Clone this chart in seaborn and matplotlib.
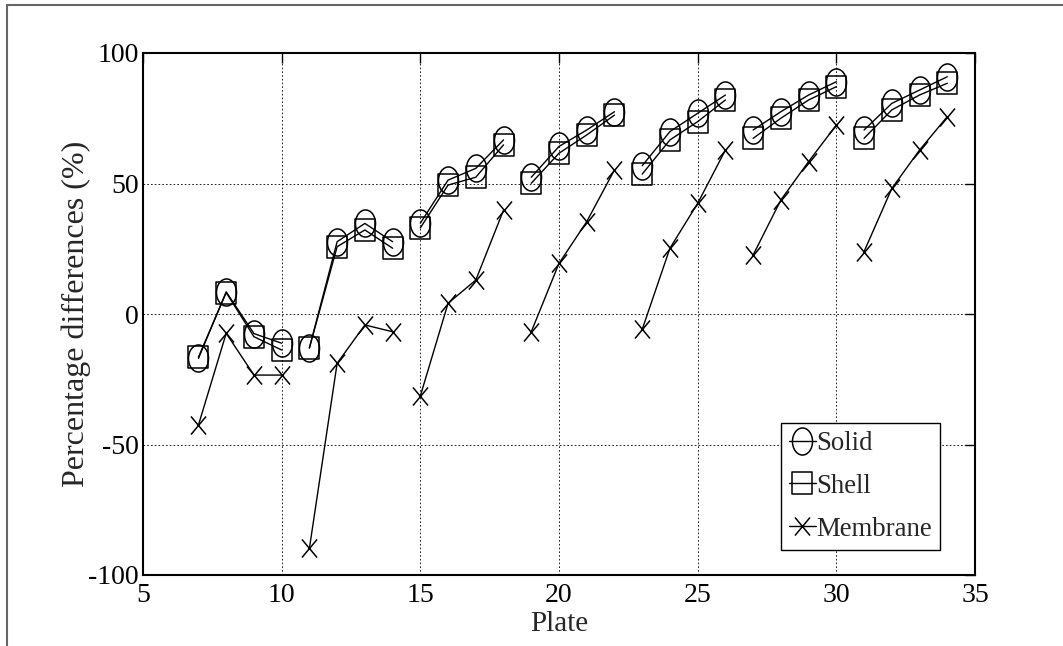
import numpy as np
import pandas as pd
import matplotlib
matplotlib.use("Agg")
import matplotlib.pyplot as plt
from matplotlib.path import Path
from matplotlib.lines import Line2D
import seaborn as sns

# ---- data ----
plates = [7, 8, 9, 10, 11, 12, 13, 14, 15, 16, 17, 18, 19, 20,
          21, 22, 23, 24, 25, 26, 27, 28, 29, 30, 31, 32, 33, 34]
groups = [1, 1, 1, 1, 2, 2, 2, 2, 3, 3, 3, 3, 4, 4,
          4, 4, 5, 5, 5, 5, 6, 6, 6, 6, 7, 7, 7, 7]
solid = [-17.0, 8.5, -7.5, -11.2, -13.0, 27.7, 34.7, 27.7, 34.8, 51.3, 55.8, 66.7, 52.4, 64.2,
         70.5, 77.5, 56.8, 69.9, 76.9, 83.9, 70.5, 77.5, 83.9, 89.0, 70.5, 80.7, 85.8, 90.9]
shell = [-16.5, 8.2, -8.7, -13.8, -13.0, 25.8, 32.2, 25.2, 33.0, 49.4, 52.4, 64.8, 50.1, 61.6,
         68.6, 76.2, 53.6, 66.7, 73.7, 82.0, 67.3, 75.0, 82.0, 87.1, 67.3, 78.2, 83.9, 88.4]
membrane = [-42.5, -7.4, -23.4, -23.4, -89.8, -18.9, -4.2, -6.8, -31.4, 4.1, 13.0, 39.8, -6.8, 19.4,
            35.4, 55.2, -5.9, 25.2, 42.4, 62.8, 22.6, 43.7, 58.4, 72.4, 23.9, 48.1, 62.8, 75.6]
series_names = ["Solid", "Shell", "Membrane"]
xticks = [5, 10, 15, 20, 25, 30, 35]
yticks = [-100, -50, 0, 50, 100]

# ---- style ----
sns.set_style("white")
plt.rcParams["font.family"] = ["Liberation Serif", "DejaVu Serif"]
plt.rcParams["axes.unicode_minus"] = False

# custom (vertically stretched) markers
circ = Path.unit_circle()
ellipse = Path(circ.vertices * np.array([1.0, 1.35]), circ.codes)
rect = Path([(-1, -1.15), (1, -1.15), (1, 1.15), (-1, 1.15), (-1, -1.15)],
            [Path.MOVETO, Path.LINETO, Path.LINETO, Path.LINETO, Path.CLOSEPOLY])
xmark = Path([(-1, -1.2), (1, 1.2), (-1, 1.2), (1, -1.2)],
             [Path.MOVETO, Path.LINETO, Path.MOVETO, Path.LINETO])
marker_style = {
    "Solid": dict(marker=ellipse, ms=19.5, mew=1.1),
    "Shell": dict(marker=rect, ms=16.5, mew=1.1),
    "Membrane": dict(marker=xmark, ms=13.0, mew=1.1),
}

fig = plt.figure(figsize=(10.63, 6.46), dpi=100)
ax = fig.add_axes([143 / 1063, 1 - 575 / 646, 832 / 1063, 522 / 646])

values = {"Solid": solid, "Shell": shell, "Membrane": membrane}
for name in series_names:
    df = pd.DataFrame({"Plate": plates, "value": values[name], "group": groups})
    st = marker_style[name]
    sns.lineplot(data=df, x="Plate", y="value", units="group", estimator=None,
                 color="black", lw=1.0, marker=st["marker"], ms=st["ms"],
                 mfc="none", mec="black", mew=st["mew"], legend=False, ax=ax)

ax.set_xlim(5, 35)
ax.set_ylim(-100, 100)
ax.set_xticks(xticks)
ax.set_yticks(yticks)
ax.grid(True, color="black", linestyle=(0, (2, 2.5)), linewidth=0.6)
for sp in ax.spines.values():
    sp.set_linewidth(1.5)
    sp.set_color("black")
ax.tick_params(direction="in", length=7, width=1, top=True, right=True,
               labelsize=20, colors="black")
ax.tick_params(axis="x", pad=6)
ax.tick_params(axis="y", pad=3)
ax.set_xlabel("Plate", fontsize=21, labelpad=2)
ax.set_ylabel("Percentage differences (%)", fontsize=23, labelpad=-2)

handles = []
for name in series_names:
    st = marker_style[name]
    handles.append(Line2D([], [], color="black", lw=1.0, marker=st["marker"], ms=st["ms"],
                          mfc="none", mec="black", mew=st["mew"]))
leg = ax.legend(handles, series_names, loc="upper right", bbox_to_anchor=(0.958, 0.291),
                borderaxespad=0, fontsize=19.3, handlelength=1.0, handletextpad=0.03,
                labelspacing=0.66, borderpad=0.3, fancybox=False, framealpha=1,
                edgecolor="black")
leg.get_frame().set_linewidth(1.0)

# grey figure border lines (top and left)
fig.add_artist(Line2D([7 / 1063, 1], [1 - 4.5 / 646, 1 - 4.5 / 646], transform=fig.transFigure,
                      color="#666666", lw=1.5))
fig.add_artist(Line2D([7 / 1063, 7 / 1063], [0, 1 - 4.5 / 646], transform=fig.transFigure,
                      color="#666666", lw=1.5))

fig.savefig("out.png", dpi=100)
